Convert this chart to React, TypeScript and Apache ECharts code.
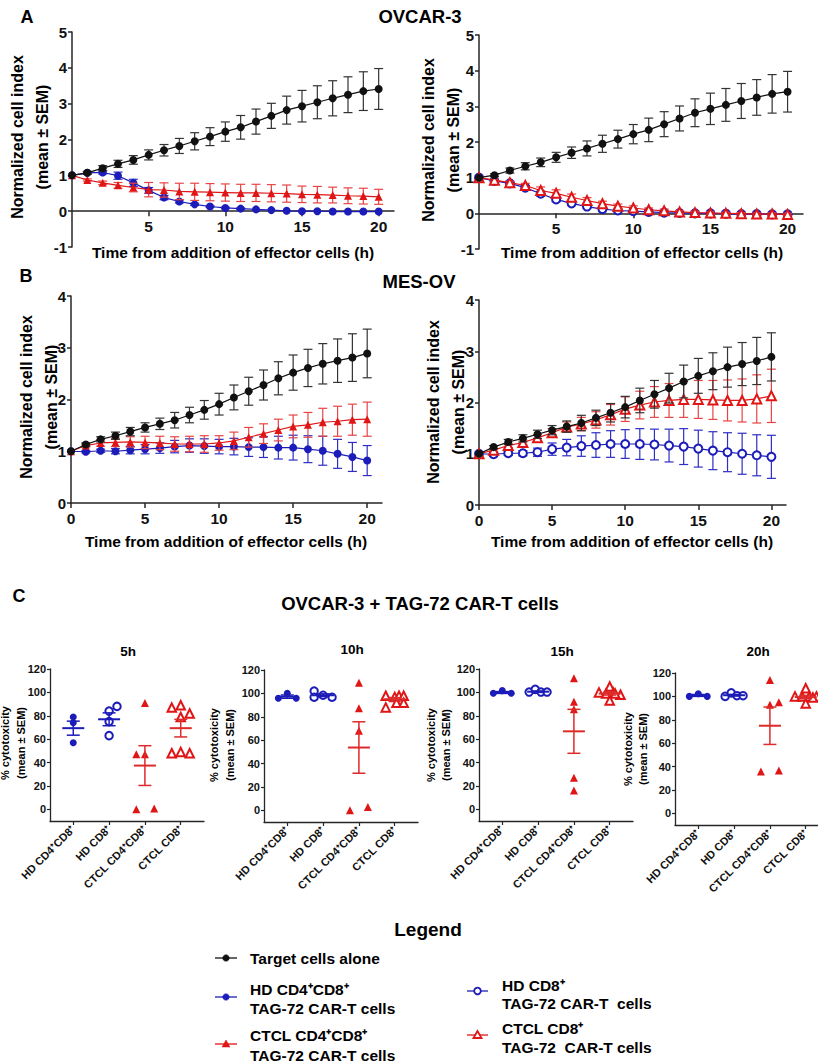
import React, { useEffect, useRef } from 'react';
import * as echarts from 'echarts';

const FONT = '"Liberation Sans", Arial, Helvetica, sans-serif';

// ---------- Panel A / B data (time course) ----------
const hours = [0, 1, 2, 3, 4, 5, 6, 7, 8, 9, 10, 11, 12, 13, 14, 15, 16, 17, 18, 19, 20];
const hourTicksA = [5, 10, 15, 20];
const hourTicksB = [0, 5, 10, 15, 20];

// OVCAR-3
const ovcarTarget = [1.0, 1.07, 1.2, 1.32, 1.43, 1.57, 1.7, 1.82, 1.95, 2.08, 2.22, 2.34, 2.5, 2.66, 2.82, 2.93, 3.04, 3.15, 3.25, 3.35, 3.41];
const ovcarTargetSem = [0, 0.04, 0.07, 0.1, 0.12, 0.14, 0.16, 0.21, 0.24, 0.25, 0.27, 0.33, 0.35, 0.35, 0.39, 0.44, 0.46, 0.49, 0.5, 0.54, 0.57];
const ovcarHdCd4Cd8 = [1.0, 1.07, 1.08, 0.99, 0.79, 0.58, 0.38, 0.27, 0.19, 0.13, 0.09, 0.07, 0.05, 0.03, 0.01, 0, 0, -0.01, -0.01, -0.01, -0.01];
const ovcarHdCd4Cd8Sem = [0, 0.02, 0.04, 0.1, 0.1, 0.08, 0.06, 0.04, 0.03, 0.02, 0.02, 0.02, 0.01, 0.01, 0.01, 0.01, 0.01, 0.01, 0.01, 0.01, 0.01];
const ovcarCtclCd4Cd8 = [1.0, 0.87, 0.79, 0.72, 0.66, 0.6, 0.59, 0.55, 0.54, 0.53, 0.52, 0.51, 0.51, 0.5, 0.49, 0.47, 0.46, 0.45, 0.43, 0.42, 0.4];
const ovcarCtclCd4Cd8Sem = [0, 0.03, 0.05, 0.08, 0.12, 0.2, 0.2, 0.23, 0.24, 0.24, 0.24, 0.24, 0.24, 0.24, 0.24, 0.23, 0.23, 0.22, 0.22, 0.22, 0.21];
const ovcarHdCd8 = [1.0, 0.91, 0.84, 0.72, 0.55, 0.39, 0.28, 0.19, 0.12, 0.08, 0.06, 0.04, 0.02, 0.01, 0, 0, -0.01, -0.02, -0.02, -0.03, -0.03];
const ovcarHdCd8Sem = [0, 0.03, 0.04, 0.06, 0.07, 0.06, 0.05, 0.04, 0.03, 0.02, 0.02, 0.02, 0.01, 0.01, 0.01, 0.01, 0.01, 0.01, 0.01, 0.01, 0.01];
const ovcarCtclCd8 = [1.0, 0.93, 0.86, 0.78, 0.64, 0.56, 0.45, 0.36, 0.27, 0.2, 0.15, 0.1, 0.07, 0.04, 0.02, 0.01, 0, -0.01, -0.02, -0.02, -0.03];
const ovcarCtclCd8Sem = [0, 0.03, 0.04, 0.06, 0.1, 0.1, 0.09, 0.08, 0.07, 0.06, 0.06, 0.05, 0.05, 0.04, 0.04, 0.03, 0.03, 0.03, 0.03, 0.03, 0.03];

// MES-OV
const mesTarget = [1.0, 1.13, 1.23, 1.3, 1.38, 1.46, 1.53, 1.6, 1.7, 1.8, 1.91, 2.04, 2.16, 2.28, 2.41, 2.52, 2.61, 2.69, 2.75, 2.81, 2.89];
const mesTargetSem = [0, 0.03, 0.05, 0.07, 0.08, 0.09, 0.11, 0.15, 0.15, 0.18, 0.21, 0.24, 0.27, 0.29, 0.32, 0.34, 0.36, 0.39, 0.42, 0.46, 0.47];
const mesHdCd4Cd8 = [1.0, 0.99, 1.01, 1.0, 1.02, 1.04, 1.06, 1.09, 1.11, 1.1, 1.09, 1.09, 1.08, 1.08, 1.07, 1.07, 1.04, 1.01, 0.95, 0.89, 0.82];
const mesHdCd4Cd8Sem = [0, 0.02, 0.03, 0.05, 0.07, 0.09, 0.1, 0.12, 0.13, 0.14, 0.14, 0.16, 0.18, 0.2, 0.22, 0.24, 0.26, 0.28, 0.28, 0.28, 0.29];
const mesCtclCd4Cd8 = [1.0, 1.11, 1.16, 1.17, 1.18, 1.17, 1.16, 1.14, 1.14, 1.14, 1.16, 1.2, 1.27, 1.34, 1.41, 1.48, 1.51, 1.56, 1.58, 1.61, 1.62];
const mesCtclCd4Cd8Sem = [0, 0.03, 0.06, 0.08, 0.1, 0.12, 0.13, 0.14, 0.15, 0.16, 0.14, 0.17, 0.19, 0.19, 0.21, 0.22, 0.24, 0.27, 0.29, 0.3, 0.33];
const mesHdCd8 = [1.0, 0.99, 1.01, 1.01, 1.03, 1.09, 1.12, 1.15, 1.17, 1.19, 1.19, 1.19, 1.18, 1.16, 1.14, 1.1, 1.06, 1.03, 1.0, 0.97, 0.94];
const mesHdCd8Sem = [0, 0.03, 0.04, 0.05, 0.08, 0.12, 0.16, 0.2, 0.24, 0.26, 0.28, 0.3, 0.3, 0.32, 0.35, 0.36, 0.37, 0.38, 0.4, 0.4, 0.42];
const mesCtclCd8 = [1.0, 1.07, 1.16, 1.22, 1.31, 1.41, 1.52, 1.58, 1.66, 1.76, 1.87, 1.95, 2.01, 2.04, 2.06, 2.06, 2.05, 2.04, 2.04, 2.07, 2.13];
const mesCtclCd8Sem = [0, 0.02, 0.04, 0.05, 0.06, 0.08, 0.1, 0.13, 0.16, 0.2, 0.24, 0.27, 0.3, 0.33, 0.35, 0.37, 0.38, 0.4, 0.42, 0.47, 0.52];

// ---------- Panel C data (% cytotoxicity) ----------
const cytoGroups = ['HD CD4⁺CD8⁺', 'HD CD8⁺', 'CTCL CD4⁺CD8⁺', 'CTCL CD8⁺'];
const cytoTimepoints = ['5h', '10h', '15h', '20h'];
const cytoYTicks = [0, 20, 40, 60, 80, 100, 120];

const cyto5h = [[79, 74, 57], [84, 88, 75, 63], [91, 47, 47, 0, 0.6], [87, 89, 79, 82, 48, 49, 48]];
const cyto5hJitter = [[0, 0, 0], [0, 0.22, 0, 0], [0, -0.24, 0, -0.24, 0.26], [-0.25, 0, 0, 0.25, -0.25, 0, 0.25]];
const cyto5hMean = [69.4, 77, 37.4, 69.4];
const cyto5hSem = [6, 5.5, 17, 7.5];

const cyto10h = [[95.8, 100, 95.8], [102, 96.7, 98.4, 96.7], [109, 87.3, 68, 0, 2.8], [98, 97, 98, 98, 88, 92, 92]];
const cyto10hJitter = [[-0.25, 0, 0.25], [-0.25, -0.25, 0, 0.25], [0, 0, 0, -0.25, 0.25], [-0.25, 0, 0.12, 0.25, -0.25, 0.05, 0.25]];
const cyto10hMean = [97.2, 98.4, 53.7, 95];
const cyto10hSem = [1.4, 1.2, 22, 1.4];

const cyto15h = [[99.2, 101.5, 99.2], [100.3, 102.6, 100.3, 100.3], [112, 92, 85.5, 27, 16], [105, 100, 99, 100, 98, 99, 93]];
const cyto15hJitter = [[-0.25, 0, 0.25], [-0.25, -0.08, 0.08, 0.25], [0, 0, 0, 0, 0], [0, -0.3, -0.1, 0.1, 0.3, 0.15, 0]];
const cyto15hMean = [99.9, 100.6, 66.7, 99];
const cyto15hSem = [0.8, 0.6, 18.8, 1.3];

const cyto20h = [[100, 102.3, 100], [100, 103, 100.6, 100.6], [114, 92.9, 94.9, 35.7, 36.6], [107, 100, 100, 100, 100, 94, 99]];
const cyto20hJitter = [[-0.25, 0, 0.25], [-0.25, -0.08, 0.08, 0.25], [0, 0, 0.25, -0.25, 0.25], [0, -0.3, -0.1, 0.1, 0.3, 0, 0.2]];
const cyto20hMean = [100.8, 101, 74.9, 99.4];
const cyto20hSem = [0.8, 0.7, 16, 1.4];

// ---------- styling ----------
const BLACK = '#111111';
const BLUE = '#1c1cb8';
const RED = '#e01515';
const AXIS = '#262626';

type SetDef = { vals: number[]; sem: number[]; color: string; bar: string; symbol: string; size: number; empty: boolean; z: number };

function errorBarRenderer(color: string, cap: number, width: number) {
  return (params: any, api: any) => {
    const x = api.value(0);
    const top = api.coord([x, api.value(2)]);
    const bot = api.coord([x, api.value(1)]);
    const h = cap / 2;
    const style = { stroke: color, lineWidth: width };
    return {
      type: 'group',
      children: [
        { type: 'line', shape: { x1: top[0], y1: top[1], x2: bot[0], y2: bot[1] }, style },
        { type: 'line', shape: { x1: top[0] - h, y1: top[1], x2: top[0] + h, y2: top[1] }, style },
        { type: 'line', shape: { x1: bot[0] - h, y1: bot[1], x2: bot[0] + h, y2: bot[1] }, style },
      ],
    };
  };
}

function meanSemRenderer(colors: string[]) {
  return (params: any, api: any) => {
    const x = api.value(0);
    const m = api.value(1);
    const s = api.value(2);
    const gi = api.value(3);
    const c = api.coord([x, m]);
    const t = api.coord([x, m + s]);
    const b = api.coord([x, m - s]);
    const style = { stroke: colors[gi], lineWidth: 1.5 };
    return {
      type: 'group',
      children: [
        { type: 'line', shape: { x1: c[0] - 11, y1: c[1], x2: c[0] + 11, y2: c[1] }, style: { stroke: colors[gi], lineWidth: 2 } },
        { type: 'line', shape: { x1: t[0], y1: t[1], x2: b[0], y2: b[1] }, style },
        { type: 'line', shape: { x1: t[0] - 6.5, y1: t[1], x2: t[0] + 6.5, y2: t[1] }, style },
        { type: 'line', shape: { x1: b[0] - 6.5, y1: b[1], x2: b[0] + 6.5, y2: b[1] }, style },
      ],
    };
  };
}

const tgt = (vals: number[], sem: number[]): SetDef => ({ vals, sem, color: BLACK, bar: '#333333', symbol: 'circle', size: 8, empty: false, z: 6 });
const blueFilled = (vals: number[], sem: number[]): SetDef => ({ vals, sem, color: BLUE, bar: '#2e2ec4', symbol: 'circle', size: 8, empty: false, z: 2 });
const blueOpen = (vals: number[], sem: number[]): SetDef => ({ vals, sem, color: BLUE, bar: '#2e2ec4', symbol: 'emptyCircle', size: 8, empty: true, z: 2 });
const redFilled = (vals: number[], sem: number[]): SetDef => ({ vals, sem, color: RED, bar: '#e84444', symbol: 'triangle', size: 8, empty: false, z: 4 });
const redOpen = (vals: number[], sem: number[]): SetDef => ({ vals, sem, color: RED, bar: '#e84444', symbol: 'emptyTriangle', size: 9, empty: true, z: 4 });

const cellPanels = [
  { left: 72, top: 32, width: 322, height: 215, ymin: -1, ymax: 5, xTicks: hourTicksA,
    sets: [blueFilled(ovcarHdCd4Cd8, ovcarHdCd4Cd8Sem), redFilled(ovcarCtclCd4Cd8, ovcarCtclCd4Cd8Sem), tgt(ovcarTarget, ovcarTargetSem)] },
  { left: 479, top: 35, width: 324, height: 214, ymin: -1, ymax: 5, xTicks: hourTicksA,
    sets: [blueOpen(ovcarHdCd8, ovcarHdCd8Sem), redOpen(ovcarCtclCd8, ovcarCtclCd8Sem), tgt(ovcarTarget, ovcarTargetSem)] },
  { left: 71, top: 296, width: 311, height: 207, ymin: 0, ymax: 4, xTicks: hourTicksB,
    sets: [blueFilled(mesHdCd4Cd8, mesHdCd4Cd8Sem), redFilled(mesCtclCd4Cd8, mesCtclCd4Cd8Sem), tgt(mesTarget, mesTargetSem)] },
  { left: 479, top: 300, width: 307, height: 205, ymin: 0, ymax: 4, xTicks: hourTicksB,
    sets: [blueOpen(mesHdCd8, mesHdCd8Sem), redOpen(mesCtclCd8, mesCtclCd8Sem), tgt(mesTarget, mesTargetSem)] },
];

const cytoPanels = [
  { left: 50, top: 669, vals: cyto5h, jit: cyto5hJitter, mean: cyto5hMean, sem: cyto5hSem },
  { left: 264, top: 670, vals: cyto10h, jit: cyto10hJitter, mean: cyto10hMean, sem: cyto10hSem },
  { left: 479, top: 669, vals: cyto15h, jit: cyto15hJitter, mean: cyto15hMean, sem: cyto15hSem },
  { left: 675, top: 673, vals: cyto20h, jit: cyto20hJitter, mean: cyto20hMean, sem: cyto20hSem },
];

const cytoSymbols = [
  { symbol: 'circle', color: BLUE, size: 7, empty: false },
  { symbol: 'emptyCircle', color: BLUE, size: 7.5, empty: true },
  { symbol: 'triangle', color: RED, size: 8, empty: false },
  { symbol: 'emptyTriangle', color: RED, size: 8.5, empty: true },
];

function txt(text: string, x: number, y: number, size: number, opts: any = {}) {
  return {
    type: 'text',
    x,
    y,
    rotation: opts.rotation || 0,
    silent: true,
    style: {
      text,
      x: 0,
      y: 0,
      fill: opts.color || '#000',
      fontSize: size,
      fontWeight: 'bold',
      fontFamily: FONT,
      lineHeight: opts.lineHeight || size * 1.2,
      align: opts.align || 'center',
      textAlign: opts.align || 'center',
      verticalAlign: 'middle',
      textVerticalAlign: 'middle',
    },
  };
}

function buildOption() {
  const grid: any[] = [];
  const xAxis: any[] = [];
  const yAxis: any[] = [];
  const series: any[] = [];
  const axisLineStyle = { color: AXIS, width: 1.5 };

  cellPanels.forEach((p, g) => {
    grid.push({ left: p.left, top: p.top, width: p.width, height: p.height, containLabel: false, outerBoundsMode: 'none' });
    // place the x axis at y = 0 (for panel A where the y range goes below zero)
    const zeroOffset = -(p.height * (0 - p.ymin)) / (p.ymax - p.ymin);
    xAxis.push({
      type: 'value', gridIndex: g, min: 0, max: 21, position: 'bottom', offset: zeroOffset,
      axisLine: { show: true, onZero: false, lineStyle: axisLineStyle },
      axisTick: { show: true, length: 5, lineStyle: axisLineStyle, customValues: p.xTicks },
      axisLabel: { show: true, customValues: p.xTicks, margin: 7, fontSize: 15.5, fontWeight: 'bold', color: '#111', fontFamily: FONT },
      splitLine: { show: false },
    });
    yAxis.push({
      type: 'value', gridIndex: g, min: p.ymin, max: p.ymax, interval: 1,
      axisLine: { show: true, onZero: false, lineStyle: axisLineStyle },
      axisTick: { show: true, length: 4, lineStyle: axisLineStyle },
      axisLabel: { show: true, margin: 5, fontSize: 15, fontWeight: 'bold', color: '#111', fontFamily: FONT },
      splitLine: { show: false },
    });
    p.sets.forEach((s) => {
      series.push({
        type: 'custom', xAxisIndex: g, yAxisIndex: g, silent: true, clip: false, z: s.z,
        renderItem: errorBarRenderer(s.bar, 9, 1.2),
        encode: { x: 0, y: [1, 2] },
        data: hours.map((h, i) => [h, s.vals[i] - s.sem[i], s.vals[i] + s.sem[i]]).filter((d) => d[2] - d[1] > 0.03),
      });
      series.push({
        type: 'line', xAxisIndex: g, yAxisIndex: g, silent: true, clip: false, z: s.z + 1,
        data: hours.map((h, i) => [h, s.vals[i]]),
        symbol: s.symbol, symbolSize: s.size, showSymbol: true,
        lineStyle: { color: s.color, width: 1.2 },
        itemStyle: { color: s.color, borderColor: s.color, borderWidth: s.empty ? 2 : 0 },
      });
    });
  });

  cytoPanels.forEach((p, k) => {
    const g = 4 + k;
    grid.push({ left: p.left, top: p.top, width: 154, height: 152, containLabel: false, outerBoundsMode: 'none' });
    xAxis.push({
      type: 'value', gridIndex: g, min: 0.35, max: 4.65,
      axisLine: { show: true, onZero: false, lineStyle: { color: AXIS, width: 1.3 } },
      axisTick: { show: true, length: 4, lineStyle: { color: AXIS, width: 1.2 }, customValues: [1, 2, 3, 4] },
      axisLabel: {
        show: true, customValues: [1, 2, 3, 4], rotate: 45, margin: 6, fontSize: 11, fontWeight: 'bold', color: '#111', fontFamily: FONT,
        formatter: (v: number) => cytoGroups[Math.round(v) - 1] || '',
      },
      splitLine: { show: false },
    });
    yAxis.push({
      type: 'value', gridIndex: g, min: -10, max: 120,
      axisLine: { show: true, onZero: false, lineStyle: { color: AXIS, width: 1.3 } },
      axisTick: { show: true, length: 3, lineStyle: { color: AXIS, width: 1.2 }, customValues: cytoYTicks },
      axisLabel: { show: true, customValues: cytoYTicks, margin: 4, fontSize: 11, fontWeight: 'bold', color: '#111', fontFamily: FONT },
      splitLine: { show: false },
    });
    p.vals.forEach((vals, gi) => {
      const sym = cytoSymbols[gi];
      series.push({
        type: 'scatter', xAxisIndex: g, yAxisIndex: g, silent: true, z: 3,
        data: vals.map((v, j) => [gi + 1 + p.jit[gi][j], v]),
        symbol: sym.symbol, symbolSize: sym.size,
        itemStyle: { color: sym.color, borderColor: sym.color, borderWidth: sym.empty ? 1.4 : 0, opacity: 1 },
      });
    });
    series.push({
      type: 'custom', xAxisIndex: g, yAxisIndex: g, silent: true, clip: false, z: 4,
      renderItem: meanSemRenderer([BLUE, BLUE, '#dd2a2a', '#dd2a2a']),
      encode: { x: 0, y: 1 },
      data: p.mean.map((m, gi) => [gi + 1, m, p.sem[gi], gi]),
    });
  });

  const graphic: any[] = [
    // panel letters & titles
    txt('A', 27, 17, 18),
    txt('OVCAR-3', 420, 16, 18.5),
    txt('B', 26, 276, 18),
    txt('MES-OV', 419, 281, 18.5),
    txt('C', 19, 596, 18),
    txt('OVCAR-3 + TAG-72 CAR-T cells', 420, 603, 18.5),
    // A/B axis titles
    txt('Time from addition of effector cells (h)', 233, 252, 15.5),
    txt('Time from addition of effector cells (h)', 642, 252, 15.5),
    txt('Time from addition of effector cells (h)', 226, 541, 15.5),
    txt('Time from addition of effector cells (h)', 632, 541, 15.5),
    txt('Normalized cell index\n(mean ± SEM)', 29.5, 137, 16, { rotation: Math.PI / 2, lineHeight: 25 }),
    txt('Normalized cell index\n(mean ± SEM)', 440.5, 140, 16, { rotation: Math.PI / 2, lineHeight: 25 }),
    txt('Normalized cell index\n(mean ± SEM)', 38.5, 397, 16, { rotation: Math.PI / 2, lineHeight: 25 }),
    txt('Normalized cell index\n(mean ± SEM)', 445.5, 402, 16, { rotation: Math.PI / 2, lineHeight: 25 }),
    // C subtitles and y titles
    txt(cytoTimepoints[0], 128, 651, 13.5),
    txt(cytoTimepoints[1], 352, 649, 13.5),
    txt(cytoTimepoints[2], 562, 651, 13.5),
    txt(cytoTimepoints[3], 758, 651, 13.5),
    txt('% cytotoxicity\n(mean ± SEM)', 13, 743, 11, { rotation: Math.PI / 2, lineHeight: 15.5 }),
    txt('% cytotoxicity\n(mean ± SEM)', 222, 745, 11, { rotation: Math.PI / 2, lineHeight: 15.5 }),
    txt('% cytotoxicity\n(mean ± SEM)', 438.5, 745, 11, { rotation: Math.PI / 2, lineHeight: 15.5 }),
    txt('% cytotoxicity\n(mean ± SEM)', 635.5, 749, 11, { rotation: Math.PI / 2, lineHeight: 15.5 }),
    // Legend
    txt('Legend', 428, 929, 19),
  ];

  const legendItems = [
    { x1: 215, x2: 237, y: 958, color: BLACK, shape: 'circle', empty: false, text: 'Target cells alone', tx: 250, ty: 958, lh: 19 },
    { x1: 215, x2: 237, y: 997, color: BLUE, shape: 'circle', empty: false, text: 'HD CD4⁺CD8⁺\nTAG-72 CAR-T cells', tx: 250, ty: 999, lh: 19 },
    { x1: 215, x2: 237, y: 1044, color: RED, shape: 'triangle', empty: false, text: 'CTCL CD4⁺CD8⁺\nTAG-72 CAR-T cells', tx: 250, ty: 1045, lh: 20 },
    { x1: 467, x2: 488, y: 991, color: BLUE, shape: 'circle', empty: true, text: 'HD CD8⁺\nTAG-72 CAR-T  cells', tx: 502, ty: 994, lh: 18 },
    { x1: 467, x2: 488, y: 1035, color: RED, shape: 'triangle', empty: true, text: 'CTCL CD8⁺\nTAG-72  CAR-T cells', tx: 502, ty: 1037.5, lh: 19 },
  ];
  legendItems.forEach((it) => {
    const cx = (it.x1 + it.x2) / 2;
    graphic.push({ type: 'line', silent: true, shape: { x1: it.x1, y1: it.y, x2: it.x2, y2: it.y }, style: { stroke: it.color, lineWidth: 1.3 } });
    const st = it.empty ? { fill: '#fff', stroke: it.color, lineWidth: 1.8 } : { fill: it.color, stroke: it.color, lineWidth: 0.5 };
    if (it.shape === 'circle') {
      graphic.push({ type: 'circle', silent: true, shape: { cx, cy: it.y, r: 3.3 }, style: st });
    } else {
      graphic.push({ type: 'polygon', silent: true, shape: { points: [[cx, it.y - 4], [cx - 4, it.y + 3], [cx + 4, it.y + 3]] }, style: st });
    }
    graphic.push(txt(it.text, it.tx, it.ty, 15.5, { align: 'left', lineHeight: it.lh }));
  });

  return {
    animation: false,
    backgroundColor: '#ffffff',
    textStyle: { fontFamily: FONT },
    grid,
    xAxis,
    yAxis,
    series,
    graphic,
  };
}

export default function App() {
  const ref = useRef<HTMLDivElement>(null);
  useEffect(() => {
    document.body.style.margin = '0';
    const chart = echarts.init(ref.current as HTMLDivElement, null, { renderer: 'svg' });
    chart.setOption(buildOption() as any);
    return () => chart.dispose();
  }, []);
  return <div ref={ref} style={{ width: 818, height: 1062 }} />;
}
